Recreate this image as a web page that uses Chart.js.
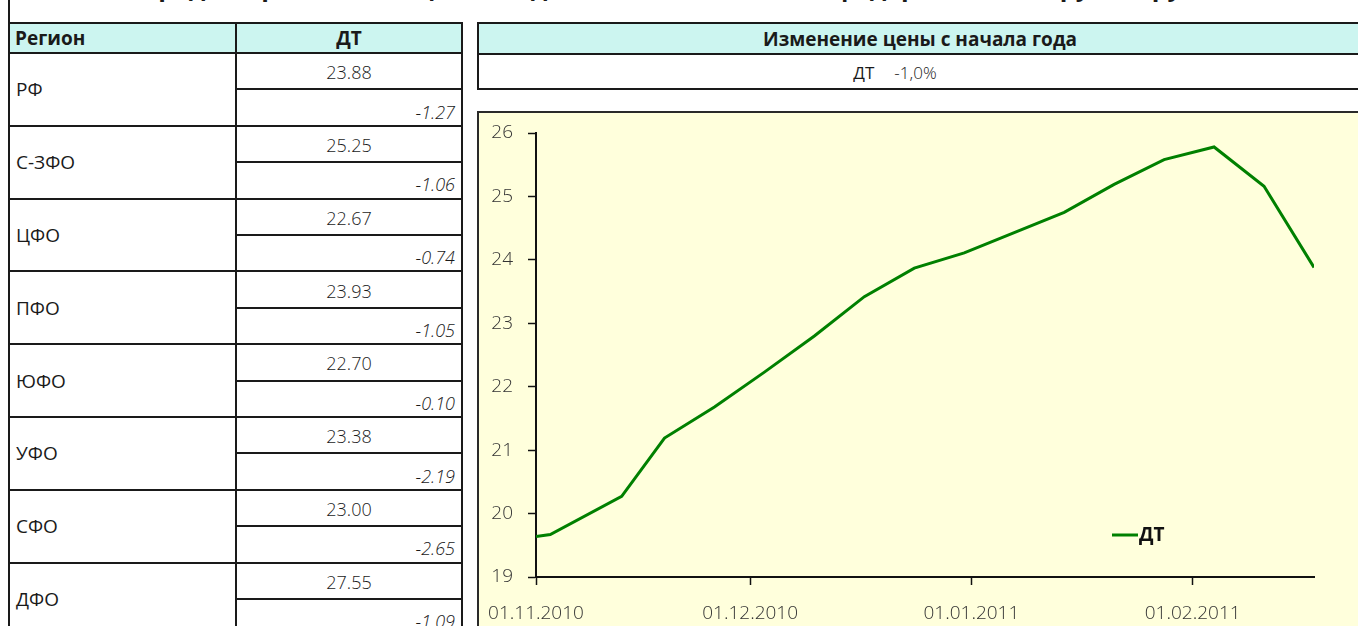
<!DOCTYPE html>
<html lang="ru">
<head>
<meta charset="utf-8">
<script src="https://cdn.jsdelivr.net/npm/chart.js@4.4.0/dist/chart.umd.min.js"></script>
<style>
body { margin:0; width:1358px; height:626px; overflow:hidden; background:#fff; font-family:"Open Sans", sans-serif; color:#1a1a1a; position:relative; }
.cell { position:absolute; box-sizing:border-box; border:2px solid #1a1a1a; overflow:hidden; white-space:nowrap; }
.head { background:#ccf5f0; font-weight:700; font-size:19px; display:flex; align-items:center; }
#title { position:absolute; left:8px; right:0; top:-31px; line-height:34px; text-align:center; font-weight:700; font-size:25px; white-space:nowrap; }
#frameLeft { position:absolute; left:8px; top:0; width:2px; height:24px; background:#1a1a1a; }
#chartBox { position:absolute; left:477px; top:111px; width:900px; height:540px; box-sizing:border-box; border:2px solid #2a2a2a; background:#ffffdc; }
#chartWrap { position:absolute; left:479px; top:113px; width:879px; height:513px; }
</style>
</head>
<body>
<div id="title">Средние розничные цены на дизельное топливо по федеральным округам, руб/л</div>
<div id="frameLeft"></div>
<div id="chartBox"></div>
<div id="chartWrap"><canvas id="myChart" width="879" height="513"></canvas></div>
<script>
// table data
const regions = ["РФ", "С-ЗФО", "ЦФО", "ПФО", "ЮФО", "УФО", "СФО", "ДФО"];
const prices = [23.88, 25.25, 22.67, 23.93, 22.70, 23.38, 23.00, 27.55];
const changes = [-1.27, -1.06, -0.74, -1.05, -0.10, -2.19, -2.65, -1.09];

// summary row
const summaryLabel = "ДТ";
const summaryChange = "-1,0%";

// chart data
const dates = ["01.11.2010", "03.11.2010", "13.11.2010", "19.11.2010", "26.11.2010", "03.12.2010", "10.12.2010", "17.12.2010",
    "24.12.2010", "31.12.2010", "07.01.2011", "14.01.2011", "21.01.2011", "28.01.2011", "04.02.2011", "11.02.2011", "18.02.2011"];
const dtValues = [19.64, 19.67, 20.27, 21.19, 21.68, 22.23, 22.80, 23.42,
    23.87, 24.11, 24.43, 24.75, 25.19, 25.58, 25.78, 25.16, 23.88];
const xTickLabels = ["01.11.2010", "01.12.2010", "01.01.2011", "01.02.2011"];
const yTicks = [19, 20, 21, 22, 23, 24, 25, 26];

//Table
function box(x0, y0, x1, y1, cls, html, style) {
    let d = document.createElement("div");
    d.className = "cell " + (cls || "");
    d.style.left = (x0 - 1) + "px";
    d.style.top = (y0 - 1) + "px";
    d.style.width = (x1 - x0 + 2) + "px";
    d.style.height = (y1 - y0 + 2) + "px";
    if (style) Object.assign(d.style, style);
    d.innerHTML = html || "";
    document.body.appendChild(d);
    return d;
}

let colA = 9, colB = 236, colC = 462;
let headTop = 23, headBottom = 53, blockH = 72.8;

box(colA, headTop, colB, headBottom, "head", "Регион", { paddingLeft: "5px" });
box(colB, headTop, colC, headBottom, "head", "ДТ", { justifyContent: "center" });

regions.forEach((r, i) => {
    let top = headBottom + i * blockH;
    let mid = top + blockH / 2;
    box(colA, top, colB, top + blockH, "", r, { display: "flex", alignItems: "center", paddingLeft: "6px", fontSize: "19px", fontWeight: "400" });
    box(colB, top, colC, mid, "", prices[i].toFixed(2),
        { display: "flex", alignItems: "center", justifyContent: "center", fontSize: "18px", fontWeight: "300", paddingTop: "2px" });
    box(colB, mid, colC, top + blockH, "", changes[i].toFixed(2),
        { display: "flex", alignItems: "center", justifyContent: "flex-end", fontSize: "18px", fontWeight: "300", fontStyle: "italic", paddingRight: "6px", paddingTop: "8px" });
});

box(478, headTop, 1362, 54, "head", "Изменение цены с начала года", { justifyContent: "center" });
box(478, 54, 1362, 89, "", '<span style="font-weight:400">' + summaryLabel + '</span><span style="margin-left:20px">' + summaryChange + '</span>',
    { display: "flex", alignItems: "center", justifyContent: "center", fontSize: "17px", fontWeight: "300", paddingTop: "2px", paddingRight: "50px" });

//Chart
function dayOf(s) {
    let p = s.split(".");
    return Math.round((Date.UTC(+p[2], +p[1] - 1, +p[0]) - Date.UTC(2010, 10, 1)) / 86400000);
}
let points = dates.map((d, i) => ({ x: dayOf(d), y: dtValues[i] }));
let xTickDays = xTickLabels.map(dayOf);

// legend drawn inside the plot, like the original
const insideLegend = {
    id: "insideLegend",
    afterDraw(chart) {
        let ctx = chart.ctx;
        let a = chart.chartArea;
        let ds = chart.data.datasets[0];
        let x = a.right - 202, y = a.bottom - 42;
        ctx.save();
        ctx.strokeStyle = ds.borderColor;
        ctx.lineWidth = 3;
        ctx.beginPath();
        ctx.moveTo(x, y);
        ctx.lineTo(x + 26, y);
        ctx.stroke();
        ctx.fillStyle = "#111";
        ctx.font = "bold 19px 'Open Sans'";
        ctx.textBaseline = "middle";
        ctx.fillText(ds.label, x + 27, y + 1);
        ctx.restore();
    }
};

let canvasElement = document.getElementById("myChart").getContext("2d");
let config = {
    type: "line",
    data: {
        datasets: [{
            label: "ДТ",
            data: points,
            borderColor: "#008000",
            backgroundColor: "#008000",
            borderWidth: 3,
            pointRadius: 0,
            fill: false,
            tension: 0
        }]
    },
    options: {
        responsive: false,
        animation: false,
        layout: { autoPadding: false, padding: { top: 20, right: 44, left: 0, bottom: 0 } },
        plugins: { legend: { display: false }, tooltip: { enabled: false } },
        scales: {
            x: {
                type: "linear",
                min: xTickDays[0],
                max: points[points.length - 1].x,
                afterFit(s) { s.height = 49; s.paddingLeft = 0; s.paddingRight = 0; },
                afterBuildTicks(s) { s.ticks = xTickDays.map(v => ({ value: v })); },
                grid: { drawOnChartArea: false, tickLength: 8, tickColor: "#111", tickWidth: 1.5 },
                border: { color: "#111", width: 2 },
                ticks: {
                    maxRotation: 0,
                    autoSkip: false,
                    padding: 17,
                    color: "#333",
                    font: { family: "'Open Sans'", size: 19, weight: "300" },
                    callback: v => xTickLabels[xTickDays.indexOf(v)] || ""
                }
            },
            y: {
                min: yTicks[0],
                max: yTicks[yTicks.length - 1],
                afterFit(s) { s.width = 57; s.paddingTop = 0; s.paddingBottom = 0; },
                afterBuildTicks(s) { s.ticks = yTicks.map(v => ({ value: v })); },
                grid: { drawOnChartArea: false, tickLength: 8, tickColor: "#111", tickWidth: 1.5 },
                border: { color: "#111", width: 2 },
                ticks: {
                    padding: 15,
                    color: "#333",
                    font: { family: "'Open Sans'", size: 19, weight: "300" }
                }
            }
        }
    },
    plugins: [insideLegend]
};

let myChart = new Chart(canvasElement, config);
</script>
</body>
</html>
